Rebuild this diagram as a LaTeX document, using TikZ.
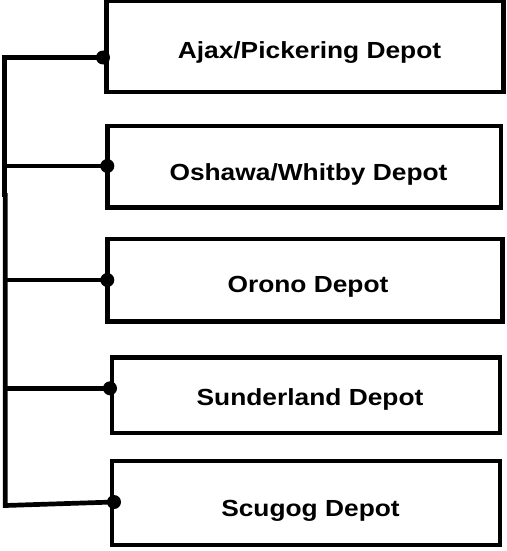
\documentclass[tikz,border=0pt]{standalone}
\usepackage{fontspec}
\setmainfont{Liberation Sans}[FakeStretch=1.13]
\begin{document}
\begin{tikzpicture}[x=1pt,y=-1pt,
  box/.style={draw=black,line width=4.6pt,fill=white,inner sep=0pt,outer sep=0pt},
  lbl/.style={anchor=base,inner sep=0pt,font=\fontsize{23.3}{26}\selectfont\bfseries},
  dot/.style={circle,fill=black,inner sep=0pt,minimum size=14pt},
  conn/.style={line width=4.7pt,line join=miter}]
\useasboundingbox (0,0) rectangle (506,551);
% boxes
\node[box,minimum width=397pt,minimum height=90.8pt] (b1) at (305,46.6) {};
\node[box,minimum width=393.3pt,minimum height=81.7pt] (b2) at (304.15,166.65) {};
\node[box,minimum width=395pt,minimum height=82.7pt] (b3) at (305,280.15) {};
\node[box,minimum width=388pt,minimum height=75.5pt] (b4) at (305.8,395.25) {};
\node[box,minimum width=388.2pt,minimum height=84.2pt] (b5) at (305.9,502.9) {};
% labels
\node[lbl] (t1) at (309.5,59) {Ajax/Pickering Depot};
\node[lbl] (t2) at (308.5,180) {Oshawa/Whitby Depot};
\node[lbl] (t3) at (308,292) {Orono Depot};
\node[lbl] (t4) at (310,405) {Sunderland Depot};
\node[lbl] (t5) at (310.5,516) {Scugog Depot};
% dots
\node[dot] (d1) at (103,57.5) {};
\node[dot] (d2) at (107.3,166) {};
\node[dot] (d3) at (107.3,280) {};
\node[dot] (d4) at (110,388.3) {};
\node[dot] (d5) at (114,502) {};
% trunk coordinates
\coordinate (c1) at (4.8,57.5);
\coordinate (c2) at (4.8,166);
\coordinate (cj) at (4.8,195);
\coordinate (cs) at (1.5,195);
\coordinate (c3) at (5.2,280);
\coordinate (c4) at (5.2,388.3);
\coordinate (c5) at (5.2,505.5);
% connectors
\draw[conn] (d1.center) -- (c1) -- (cj);
\draw[conn] (cs) -- (cj);
\draw[conn] (c2) -- (d2.center);
\draw[conn] (5.2,193) -- (c5) -- (d5.center);
\draw[conn] (c3) -- (d3.center);
\draw[conn] (c4) -- (d4.center);
\end{tikzpicture}
\end{document}
